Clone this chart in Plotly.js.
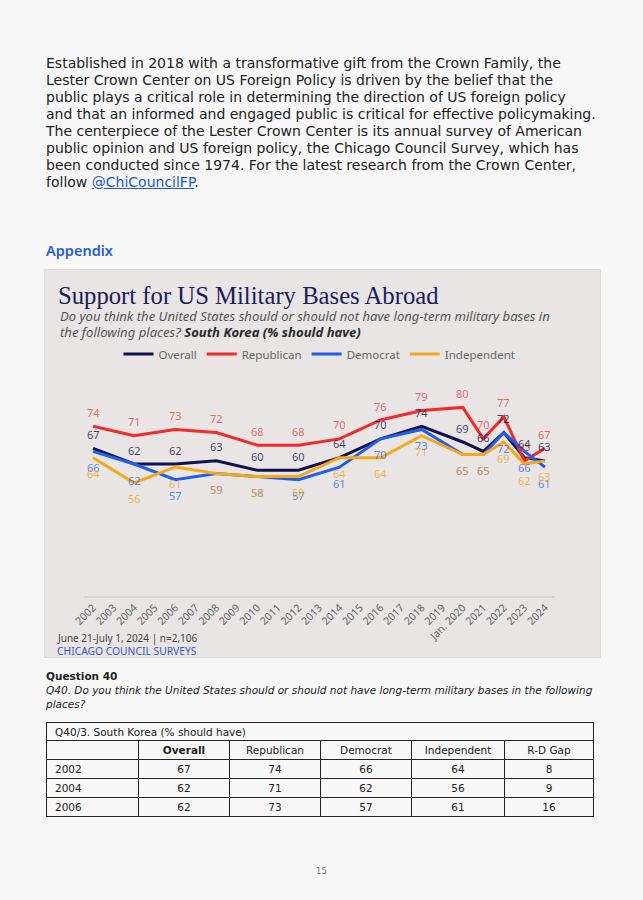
<!DOCTYPE html>
<html>
<head>
<meta charset="utf-8">
<script src="https://cdn.plot.ly/plotly-3.0.1.min.js"></script>
<style>
html,body{margin:0;padding:0;background:#f7f7f7;}
body{width:643px;height:900px;position:relative;overflow:hidden;font-family:"DejaVu Sans",sans-serif;color:#222;}
#intro{position:absolute;left:46px;top:55px;font-size:14px;line-height:17px;white-space:nowrap;color:#222;}
#intro a{color:#2255dd;text-decoration:underline;}
#appendix{position:absolute;left:46px;top:240px;font-family:"Noto Sans",sans-serif;font-size:14.5px;font-weight:600;color:#2a5bd7;}
#chart{position:absolute;left:45px;top:270px;width:555px;height:387px;outline:1px solid #e0dedd;}
#q{position:absolute;left:46px;top:669px;font-size:10.5px;line-height:14px;white-space:nowrap;color:#222;}
#q b{font-weight:700;}
#tbl{position:absolute;left:46px;top:722px;border-collapse:collapse;font-size:10.5px;color:#222;table-layout:fixed;}
#tbl td{border:1px solid #222;padding:0;text-align:center;height:18px;white-space:nowrap;}
#tbl td.l{text-align:left;padding-left:8px;}
#pg{position:absolute;left:0;width:643px;top:866px;text-align:center;font-size:8.5px;color:#777;}
</style>
</head>
<body>
<div id="intro">Established in 2018 with a transformative gift from the Crown Family, the<br>Lester Crown Center on US Foreign Policy is driven by the belief that the<br>public plays a critical role in determining the direction of US foreign policy<br>and that an informed and engaged public is critical for effective policymaking.<br>The centerpiece of the Lester Crown Center is its annual survey of American<br>public opinion and US foreign policy, the Chicago Council Survey, which has<br>been conducted since 1974. For the latest research from the Crown Center,<br>follow <a>@ChiCouncilFP</a>.</div>
<div id="appendix">Appendix</div>
<div id="chart"></div>
<div id="q"><b>Question 40</b><br><i>Q40. Do you think the United States should or should not have long-term military bases in the following<br>places?</i></div>
<table id="tbl"></table>
<div id="pg">15</div>
<script>
// Axis categories (tick labels)
const categories = ["2002","2003","2004","2005","2006","2007","2008","2009","2010","2011","2012","2013","2014","2015","2016","2017","2018","2019","Jan. 2020","2021","2022","2023","2024"];
// Survey waves with data
const waves = ["2002","2004","2006","2008","2010","2012","2014","2016","2018","Jan. 2020","2021","2022","2023","2024"];
const overall     = [67,62,62,63,60,60,64,70,74,69,66,72,64,63];
const republican  = [74,71,73,72,68,68,70,76,79,80,70,77,63,67];
const democrat    = [66,62,57,59,58,57,61,70,73,65,65,72,66,61];
const independent = [64,56,61,59,58,58,64,64,71,65,65,69,62,63];
const seriesNames = ["Overall","Republican","Democrat","Independent"];

const lineColors  = ["#10104f","#f42a2a","#1f5fee","#f6a81c"];
const labelColors = ["rgba(20,20,85,0.8)","rgba(240,45,45,0.7)","rgba(30,95,238,0.72)","rgba(246,168,28,0.78)"];
const labelShift  = [14, 14, -16, -16];
const allSeries = [overall, republican, democrat, independent];

const traces = allSeries.map((vals, i) => ({
  type: "scatter", mode: "lines", name: seriesNames[i],
  x: waves, y: vals,
  line: {color: lineColors[i], width: 3},
  hoverinfo: "skip"
}));

const annotations = [];
allSeries.forEach((vals, i) => {
  vals.forEach((v, j) => {
    annotations.push({
      x: categories.indexOf(waves[j]), y: v, xref: "x", yref: "y", text: String(v), showarrow: false,
      yshift: labelShift[i], font: {family: "Noto Sans", size: 11, color: labelColors[i]}
    });
  });
});

const subX = (13 - 39) / 471;
annotations.push({
  xref: "paper", yref: "paper", x: subX, y: 1 + (106 - 46) / 220,
  xanchor: "left", yanchor: "middle", align: "left", showarrow: false,
  text: "<i>Do you think the United States should or should not have long-term military bases in</i>",
  font: {family: "Noto Sans", size: 13.1, color: "#555"}
});
annotations.push({
  xref: "paper", yref: "paper", x: subX, y: 1 + (106 - 62) / 220,
  xanchor: "left", yanchor: "middle", align: "left", showarrow: false,
  text: "<i>the following places? <b><span style='color:#2a2a2a'>South Korea (% should have)</span></b></i>",
  font: {family: "Noto Sans", size: 13.1, color: "#555"}
});
annotations.push({
  xref: "paper", yref: "paper", x: (10 - 39) / 471, y: -(368 - 326) / 220,
  xanchor: "left", yanchor: "middle", showarrow: false,
  text: "June 21-July 1, 2024 | n=2,106",
  font: {family: "Noto Sans", size: 10, color: "#444"}
});
annotations.push({
  xref: "paper", yref: "paper", x: (10 - 39) / 471, y: -(381 - 326) / 220,
  xanchor: "left", yanchor: "middle", showarrow: false,
  text: "CHICAGO COUNCIL SURVEYS",
  font: {family: "Noto Sans", size: 10.3, color: "#3557d4"}
});

const layout = {
  width: 555, height: 387,
  paper_bgcolor: "#e8e5e4", plot_bgcolor: "#e8e5e4",
  margin: {l: 39, r: 45, t: 106, b: 61},
  title: {
    text: "Support for US Military Bases Abroad",
    font: {family: "Liberation Serif", size: 24.7, color: "#1b1b5e"},
    xref: "container", x: 13 / 555, xanchor: "left",
    yref: "container", y: 1 - 25 / 387, yanchor: "middle"
  },
  showlegend: true,
  legend: {
    orientation: "h", x: 0.5, xanchor: "center", y: 1 + 22 / 220, yanchor: "middle",
    font: {family: "Noto Sans", size: 11.5, color: "#666"}, bgcolor: "rgba(0,0,0,0)",
    itemwidth: 30
  },
  xaxis: {
    type: "category", categoryorder: "array", categoryarray: categories,
    range: [-0.44, 22.49], tickangle: -45, showgrid: false, zeroline: false,
    showline: true, linecolor: "#d7d4d3", linewidth: 1.5, ticks: "",
    tickfont: {family: "Noto Sans", size: 10.5, color: "#666"}, fixedrange: true
  },
  yaxis: {range: [20, 90], visible: false, showgrid: false, zeroline: false, fixedrange: true},
  annotations: annotations,
  hovermode: false
};

Plotly.newPlot("chart", traces, layout, {staticPlot: true, displayModeBar: false});

// Table built from the first three waves
const colWidths = [92, 91, 91, 91, 93, 89];
const tbl = document.getElementById("tbl");
let html = "<colgroup>" + colWidths.map(w => "<col style='width:" + w + "px'>").join("") + "</colgroup>";
html += "<tr><td class='l' colspan='6' style='height:17px'>Q40/3. South Korea (% should have)</td></tr>";
html += "<tr><td></td><td><b>Overall</b></td>" + seriesNames.slice(1).map(n => "<td>" + n + "</td>").join("") + "<td>R-D Gap</td></tr>";
for (let j = 0; j < 3; j++) {
  html += "<tr><td class='l'>" + waves[j] + "</td>" + allSeries.map(s => "<td>" + s[j] + "</td>").join("") +
          "<td>" + (republican[j] - democrat[j]) + "</td></tr>";
}
tbl.innerHTML = html;
</script>
</body>
</html>
